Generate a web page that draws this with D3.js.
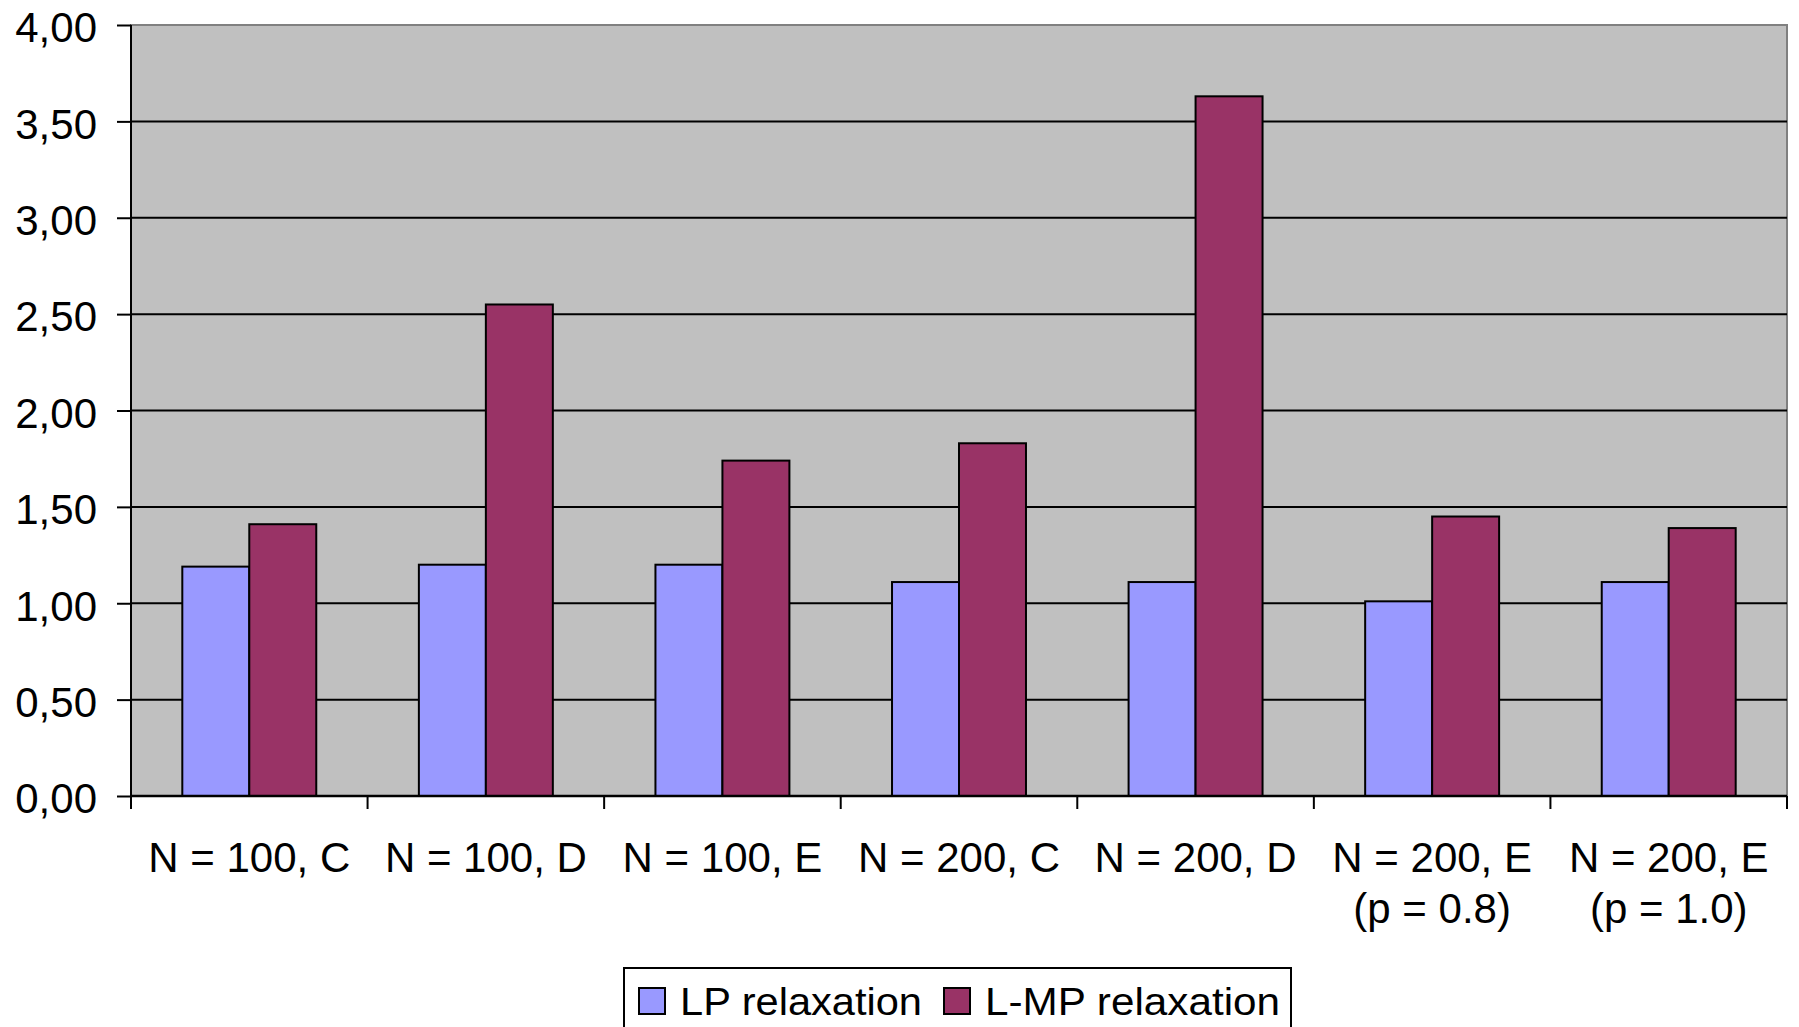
<!DOCTYPE html>
<html>
<head>
<meta charset="utf-8">
<script src="https://cdn.jsdelivr.net/npm/d3@7"></script>
<style>
  body { margin: 0; background: #fff; }
  svg text { font-family: "Liberation Sans", Arial, sans-serif; fill: #000; }
</style>
</head>
<body>
<svg id="vis"></svg>
<script>
// categories (multi-line labels split on \n)
const categories = [
  "N = 100, C",
  "N = 100, D",
  "N = 100, E",
  "N = 200, C",
  "N = 200, D",
  "N = 200, E\n(p = 0.8)",
  "N = 200, E\n(p = 1.0)"
];
const seriesNames = ["LP relaxation", "L-MP relaxation"];
const seriesColors = ["#9999FF", "#993366"];
const lpValues = [1.19, 1.20, 1.20, 1.11, 1.11, 1.01, 1.11];
const lmpValues = [1.41, 2.55, 1.74, 1.83, 3.63, 1.45, 1.39];
const yTicks = [0, 0.5, 1, 1.5, 2, 2.5, 3, 3.5, 4];

const W = 1799, H = 1027;
const margin = {top: 25, right: 12, bottom: 231, left: 131};
const width = W - margin.left - margin.right,
      height = H - margin.top - margin.bottom;

const svg = d3.select("#vis").attr("width", W).attr("height", H);
const g = svg.append("g").attr("transform", "translate(" + margin.left + "," + margin.top + ")");

// scales
const x = d3.scaleBand().domain(categories).range([0, width]).paddingInner(0).paddingOuter(0);
const x1 = d3.scaleBand().domain(seriesNames).range([0, x.bandwidth()]).paddingInner(0).paddingOuter(0.766);
const y = d3.scaleLinear().domain([0, 4]).range([height, 0]);

// plot background
g.append("rect")
  .attr("x", 0).attr("y", 0)
  .attr("width", width).attr("height", height)
  .attr("fill", "#C0C0C0")
  .attr("stroke", "#808080")
  .attr("stroke-width", 2);

// gridlines
g.selectAll(".grid")
  .data(yTicks.filter(d => d > 0 && d < 4))
  .enter().append("line")
  .attr("x1", 0).attr("x2", width)
  .attr("y1", d => y(d)).attr("y2", d => y(d))
  .attr("stroke", "#000").attr("stroke-width", 2);

// bars
const rows = categories.map((c, i) => ({cat: c, vals: [lpValues[i], lmpValues[i]]}));
const grp = g.selectAll(".grp").data(rows).enter().append("g")
  .attr("transform", d => "translate(" + x(d.cat) + ",0)");
grp.selectAll("rect")
  .data(d => d.vals.map((v, j) => ({name: seriesNames[j], v: v, c: seriesColors[j]})))
  .enter().append("rect")
  .attr("x", d => x1(d.name))
  .attr("width", x1.bandwidth())
  .attr("y", d => y(d.v))
  .attr("height", d => y(0) - y(d.v))
  .attr("fill", d => d.c)
  .attr("stroke", "#000")
  .attr("stroke-width", 2);

// y axis
const yAxis = g.append("g")
  .call(d3.axisLeft(y).tickValues(yTicks).tickSize(14).tickPadding(20)
    .tickFormat(d => d3.format(".2f")(d).replace(".", ",")));
yAxis.select(".domain").attr("stroke", "#000").attr("stroke-width", 2).attr("d", "M0," + height + "V0");
yAxis.selectAll(".tick line").attr("stroke", "#000").attr("stroke-width", 2);
yAxis.selectAll(".tick text").attr("font-size", 42).attr("dy", "0.4em");
yAxis.attr("font-family", null);

// x axis: ticks at category boundaries
const bounds = categories.map(c => x(c)).concat([width]);
g.append("line")
  .attr("x1", 0).attr("x2", width)
  .attr("y1", height).attr("y2", height)
  .attr("stroke", "#000").attr("stroke-width", 2.5);
g.selectAll(".xtick").data(bounds).enter().append("line")
  .attr("x1", d => d).attr("x2", d => d)
  .attr("y1", height).attr("y2", height + 13)
  .attr("stroke", "#000").attr("stroke-width", 2);

const xl = g.selectAll(".xlab").data(categories).enter().append("text")
  .attr("text-anchor", "middle")
  .attr("font-size", 42)
  .attr("transform", d => "translate(" + (x(d) + x.bandwidth() / 2) + "," + (height + 76) + ")");
xl.selectAll("tspan").data(d => d.split("\n")).enter().append("tspan")
  .attr("x", 0)
  .attr("y", (d, i) => i * 51)
  .text(d => d);

// legend
const leg = svg.append("g").attr("transform", "translate(624,968)");
leg.append("rect")
  .attr("x", 0).attr("y", 0)
  .attr("width", 667).attr("height", 80)
  .attr("fill", "#fff").attr("stroke", "#000").attr("stroke-width", 2);
const legX = [15, 320];
const legW = [242, 295];
seriesNames.forEach((n, i) => {
  leg.append("rect")
    .attr("x", legX[i]).attr("y", 20)
    .attr("width", 26).attr("height", 26)
    .attr("fill", seriesColors[i]).attr("stroke", "#000").attr("stroke-width", 2);
  leg.append("text")
    .attr("x", legX[i] + 41).attr("y", 47)
    .attr("font-size", 38)
    .attr("textLength", legW[i])
    .attr("lengthAdjust", "spacingAndGlyphs")
    .text(n);
});
</script>
</body>
</html>
